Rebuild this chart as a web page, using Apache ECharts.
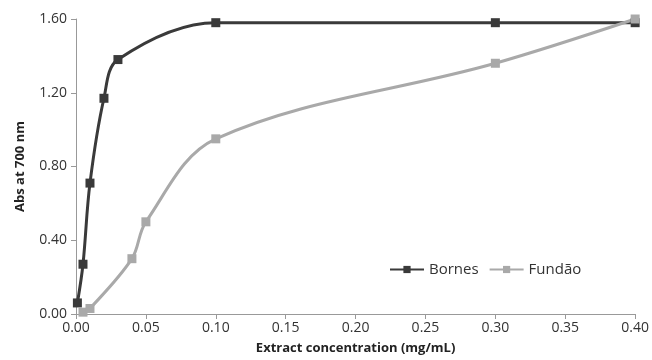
<!DOCTYPE html>
<html><head><meta charset="utf-8">
<script src="https://cdn.jsdelivr.net/npm/echarts@6/dist/echarts.min.js"></script>
<style>html,body{margin:0;padding:0;background:#fff}#c{width:652px;height:360px}</style>
</head><body><div id="c"></div>
<script>
const bornesX = [0.001, 0.005, 0.01, 0.02, 0.03, 0.10, 0.30, 0.40];
const bornesY = [0.06, 0.27, 0.71, 1.17, 1.38, 1.58, 1.58, 1.58];
const fundaoX = [0.005, 0.01, 0.04, 0.05, 0.10, 0.30, 0.40];
const fundaoY = [0.01, 0.03, 0.30, 0.50, 0.95, 1.36, 1.60];
const seriesNames = ['Bornes', 'Fundão'];
const xTitle = 'Extract concentration (mg/mL)';
const yTitle = 'Abs at 700 nm';

const font = '"Open Sans", sans-serif';
const chart = echarts.init(document.getElementById('c'), null, {renderer: 'canvas'});
const pair = (xs, ys) => xs.map((x, i) => [x, ys[i]]);
chart.setOption({
  animation: false,
  grid: {left: 76, right: 15, top: 19, bottom: 44},
  legend: {
    left: 384, top: 257, itemWidth: 34, itemHeight: 9, itemGap: 10,
    textStyle: {fontFamily: font, fontSize: 15, color: '#333'},
    data: seriesNames
  },
  xAxis: {
    type: 'value', min: 0, max: 0.4, interval: 0.05,
    name: xTitle, nameLocation: 'middle', nameGap: 28,
    nameTextStyle: {fontFamily: font, fontSize: 13, fontWeight: 'bold', color: '#222'},
    axisLine: {show: true, lineStyle: {color: '#999', width: 1}},
    axisTick: {show: true, length: 5, lineStyle: {color: '#999'}},
    axisLabel: {fontFamily: font, fontSize: 14, color: '#333', margin: 7, formatter: v => v.toFixed(2)},
    splitLine: {show: false}
  },
  yAxis: {
    type: 'value', min: 0, max: 1.6, interval: 0.4,
    name: yTitle, nameLocation: 'middle', nameGap: 49, nameRotate: 90,
    nameTextStyle: {fontFamily: font, fontSize: 13, fontWeight: 'bold', color: '#222'},
    axisLine: {show: true, lineStyle: {color: '#999', width: 1}},
    axisTick: {show: true, length: 5, lineStyle: {color: '#999'}},
    axisLabel: {fontFamily: font, fontSize: 14, color: '#333', margin: 9, formatter: v => v.toFixed(2)},
    splitLine: {show: false}
  },
  series: [
    {
      name: seriesNames[0], type: 'line', smooth: 0.35,
      data: pair(bornesX, bornesY),
      symbol: 'rect', symbolSize: 9, showAllSymbol: true,
      lineStyle: {color: '#3a3a3a', width: 3},
      itemStyle: {color: '#3a3a3a'}
    },
    {
      name: seriesNames[1], type: 'line', smooth: 0.35,
      data: pair(fundaoX, fundaoY),
      symbol: 'rect', symbolSize: 9, showAllSymbol: true,
      lineStyle: {color: '#a9a9a9', width: 3},
      itemStyle: {color: '#a9a9a9'}
    }
  ]
});
</script></body></html>
